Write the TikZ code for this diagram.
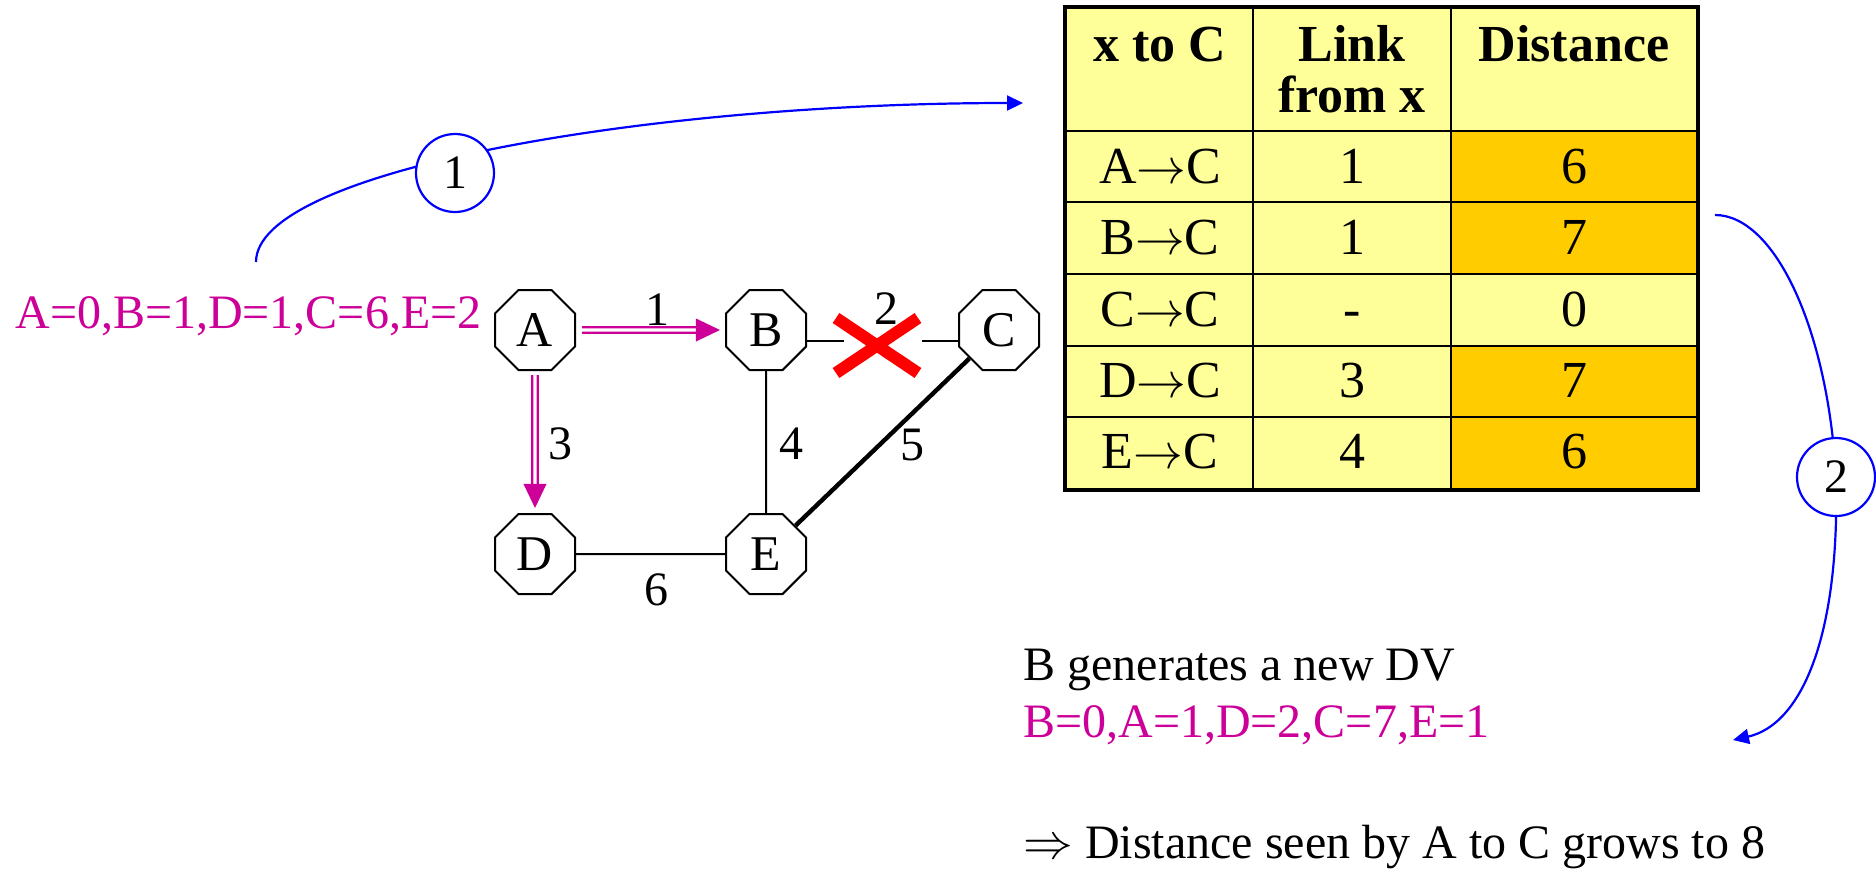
\documentclass[tikz,border=0pt]{standalone}
\usepackage{fontspec}
\setmainfont{Liberation Serif}
\usetikzlibrary{shapes.geometric,arrows.meta}
\definecolor{mag}{RGB}{204,0,153}
\definecolor{tyel}{RGB}{255,255,153}
\definecolor{torange}{RGB}{255,204,0}
\definecolor{xred}{RGB}{255,0,0}
\definecolor{cblue}{RGB}{0,0,255}
\newcommand{\toarr}{\ensuremath{\rightarrow}}
\begin{document}
\begin{tikzpicture}[x=0.5pt,y=-0.5pt,
  router/.style={regular polygon, regular polygon sides=8, draw, line width=1pt, minimum size=43.3pt, inner sep=0pt, fill=white, font=\fontsize{25}{29}\selectfont},
  link/.style={draw, line width=1pt},
  dbl/.style={draw=mag, line width=1.1pt, double=white, double distance=1.6pt},
  wlabel/.style={font=\fontsize{24}{28}\selectfont, inner sep=0pt},
  stepnum/.style={circle, draw=cblue, line width=1.1pt, fill=white, minimum size=39pt, inner sep=0pt, font=\fontsize{24}{28}\selectfont},
  flow/.style={draw=cblue, line width=1.1pt, -{Triangle[length=8pt,width=7.5pt]}},
  cell/.style={font=\fontsize{26}{30}\selectfont, inner sep=0pt, anchor=base},
  head/.style={font=\bfseries\fontsize{26}{30}\selectfont, inner sep=0pt, anchor=base},
  dv/.style={font=\fontsize{24}{28}\selectfont, inner sep=0pt, anchor=base west},
]
\useasboundingbox (0,0) rectangle (1876,869);

% ---- graph ----
\node[router] (A) at (535,330) {A};
\node[router] (B) at (766,330) {B};
\node[router] (C) at (999,330) {C};
\node[router] (D) at (535,554) {D};
\node[router] (E) at (766,554) {E};

\draw[dbl, shorten <=3pt, shorten >=14.5pt] (A) -- (B);
\fill[mag] ([xshift=-2.5pt]B.west) -- ++(-24,-11.5) -- ++(0,23) -- cycle;
\draw[dbl, shorten <=2pt, shorten >=14.5pt] (A) -- (D);
\fill[mag] ([yshift=2.5pt]D.north) -- ++(-11.5,-24) -- ++(23,0) -- cycle;

\draw[link] ([yshift=-5.5pt]B.east) -- ++(37,0);
\draw[link] ([yshift=-5.5pt]C.west) -- ++(-36,0);
\draw[link] (B) -- (E);
\draw[link] (D) -- (E);
\draw[link, line width=2.2pt] (C) -- (E);

\draw[xred, line width=6pt] (836,318) -- (918,373) (836,373) -- (918,318);

\node[wlabel] (w1) at (657,310) {1};
\node[wlabel] (w2) at (886,309) {2};
\node[wlabel] (w3) at (560,444) {3};
\node[wlabel] (w4) at (791,444) {4};
\node[wlabel] (w5) at (912,445) {5};
\node[wlabel] (w6) at (656,590) {6};

% ---- table ----
\fill[tyel] (1065,7) rectangle (1698,490);
\fill[torange] (1451,131) rectangle (1698,274);
\fill[torange] (1451,346) rectangle (1698,490);
\draw[line width=1pt] (1253,7) -- (1253,490) (1451,7) -- (1451,490);
\foreach \yy in {131,202,274,346,417} \draw[line width=1pt] (1065,\yy) -- (1698,\yy);
\draw[line width=2pt] (1065,7) rectangle (1698,490);

\node[head] (h1) at (1160,61) {x to C};
\node[head] (h2) at (1352,61) {Link};
\node[head] (h2b) at (1352,112) {from x};
\node[head] (h3) at (1574,61) {Distance};

\node[cell] (r1a) at (1160,183) {A\toarr C};
\node[cell] (r1b) at (1352,183) {1};
\node[cell] (r1c) at (1574,183) {6};
\node[cell] (r2a) at (1160,254) {B\toarr C};
\node[cell] (r2b) at (1352,254) {1};
\node[cell] (r2c) at (1574,254) {7};
\node[cell] (r3a) at (1160,326) {C\toarr C};
\node[cell] (r3b) at (1352,326) {-};
\node[cell] (r3c) at (1574,326) {0};
\node[cell] (r4a) at (1160,397) {D\toarr C};
\node[cell] (r4b) at (1352,397) {3};
\node[cell] (r4c) at (1574,397) {7};
\node[cell] (r5a) at (1160,468) {E\toarr C};
\node[cell] (r5b) at (1352,468) {4};
\node[cell] (r5c) at (1574,468) {6};

% ---- texts ----
\node[dv, text=mag] (dvA) at (15,328) {A=0,B=1,D=1,C=6,E=2};
\node[dv] (gen) at (1023,680) {B generates a new DV};
\node[dv, text=mag] (dvB) at (1023,737) {B=0,A=1,D=2,C=7,E=1};
\node[dv] (res) at (1023,858) {$\Rightarrow$ Distance seen by A to C grows to 8};

% ---- flows ----
\coordinate (s1) at (256,262);
\coordinate (t1) at (1023,103);
\draw[flow] (s1) .. controls (256,170) and (650,103) .. (t1);
\node[stepnum] (n1) at (455,173) {1};

\coordinate (s2) at (1715,215);
\coordinate (c2) at (1836,477);
\coordinate (t2) at (1733,740);
\draw[flow] (s2) .. controls (1775,215) and (1828,330) .. (c2) .. controls (1840,640) and (1800,725) .. (t2);
\node[stepnum] (n2) at (c2) {2};
\end{tikzpicture}
\end{document}
